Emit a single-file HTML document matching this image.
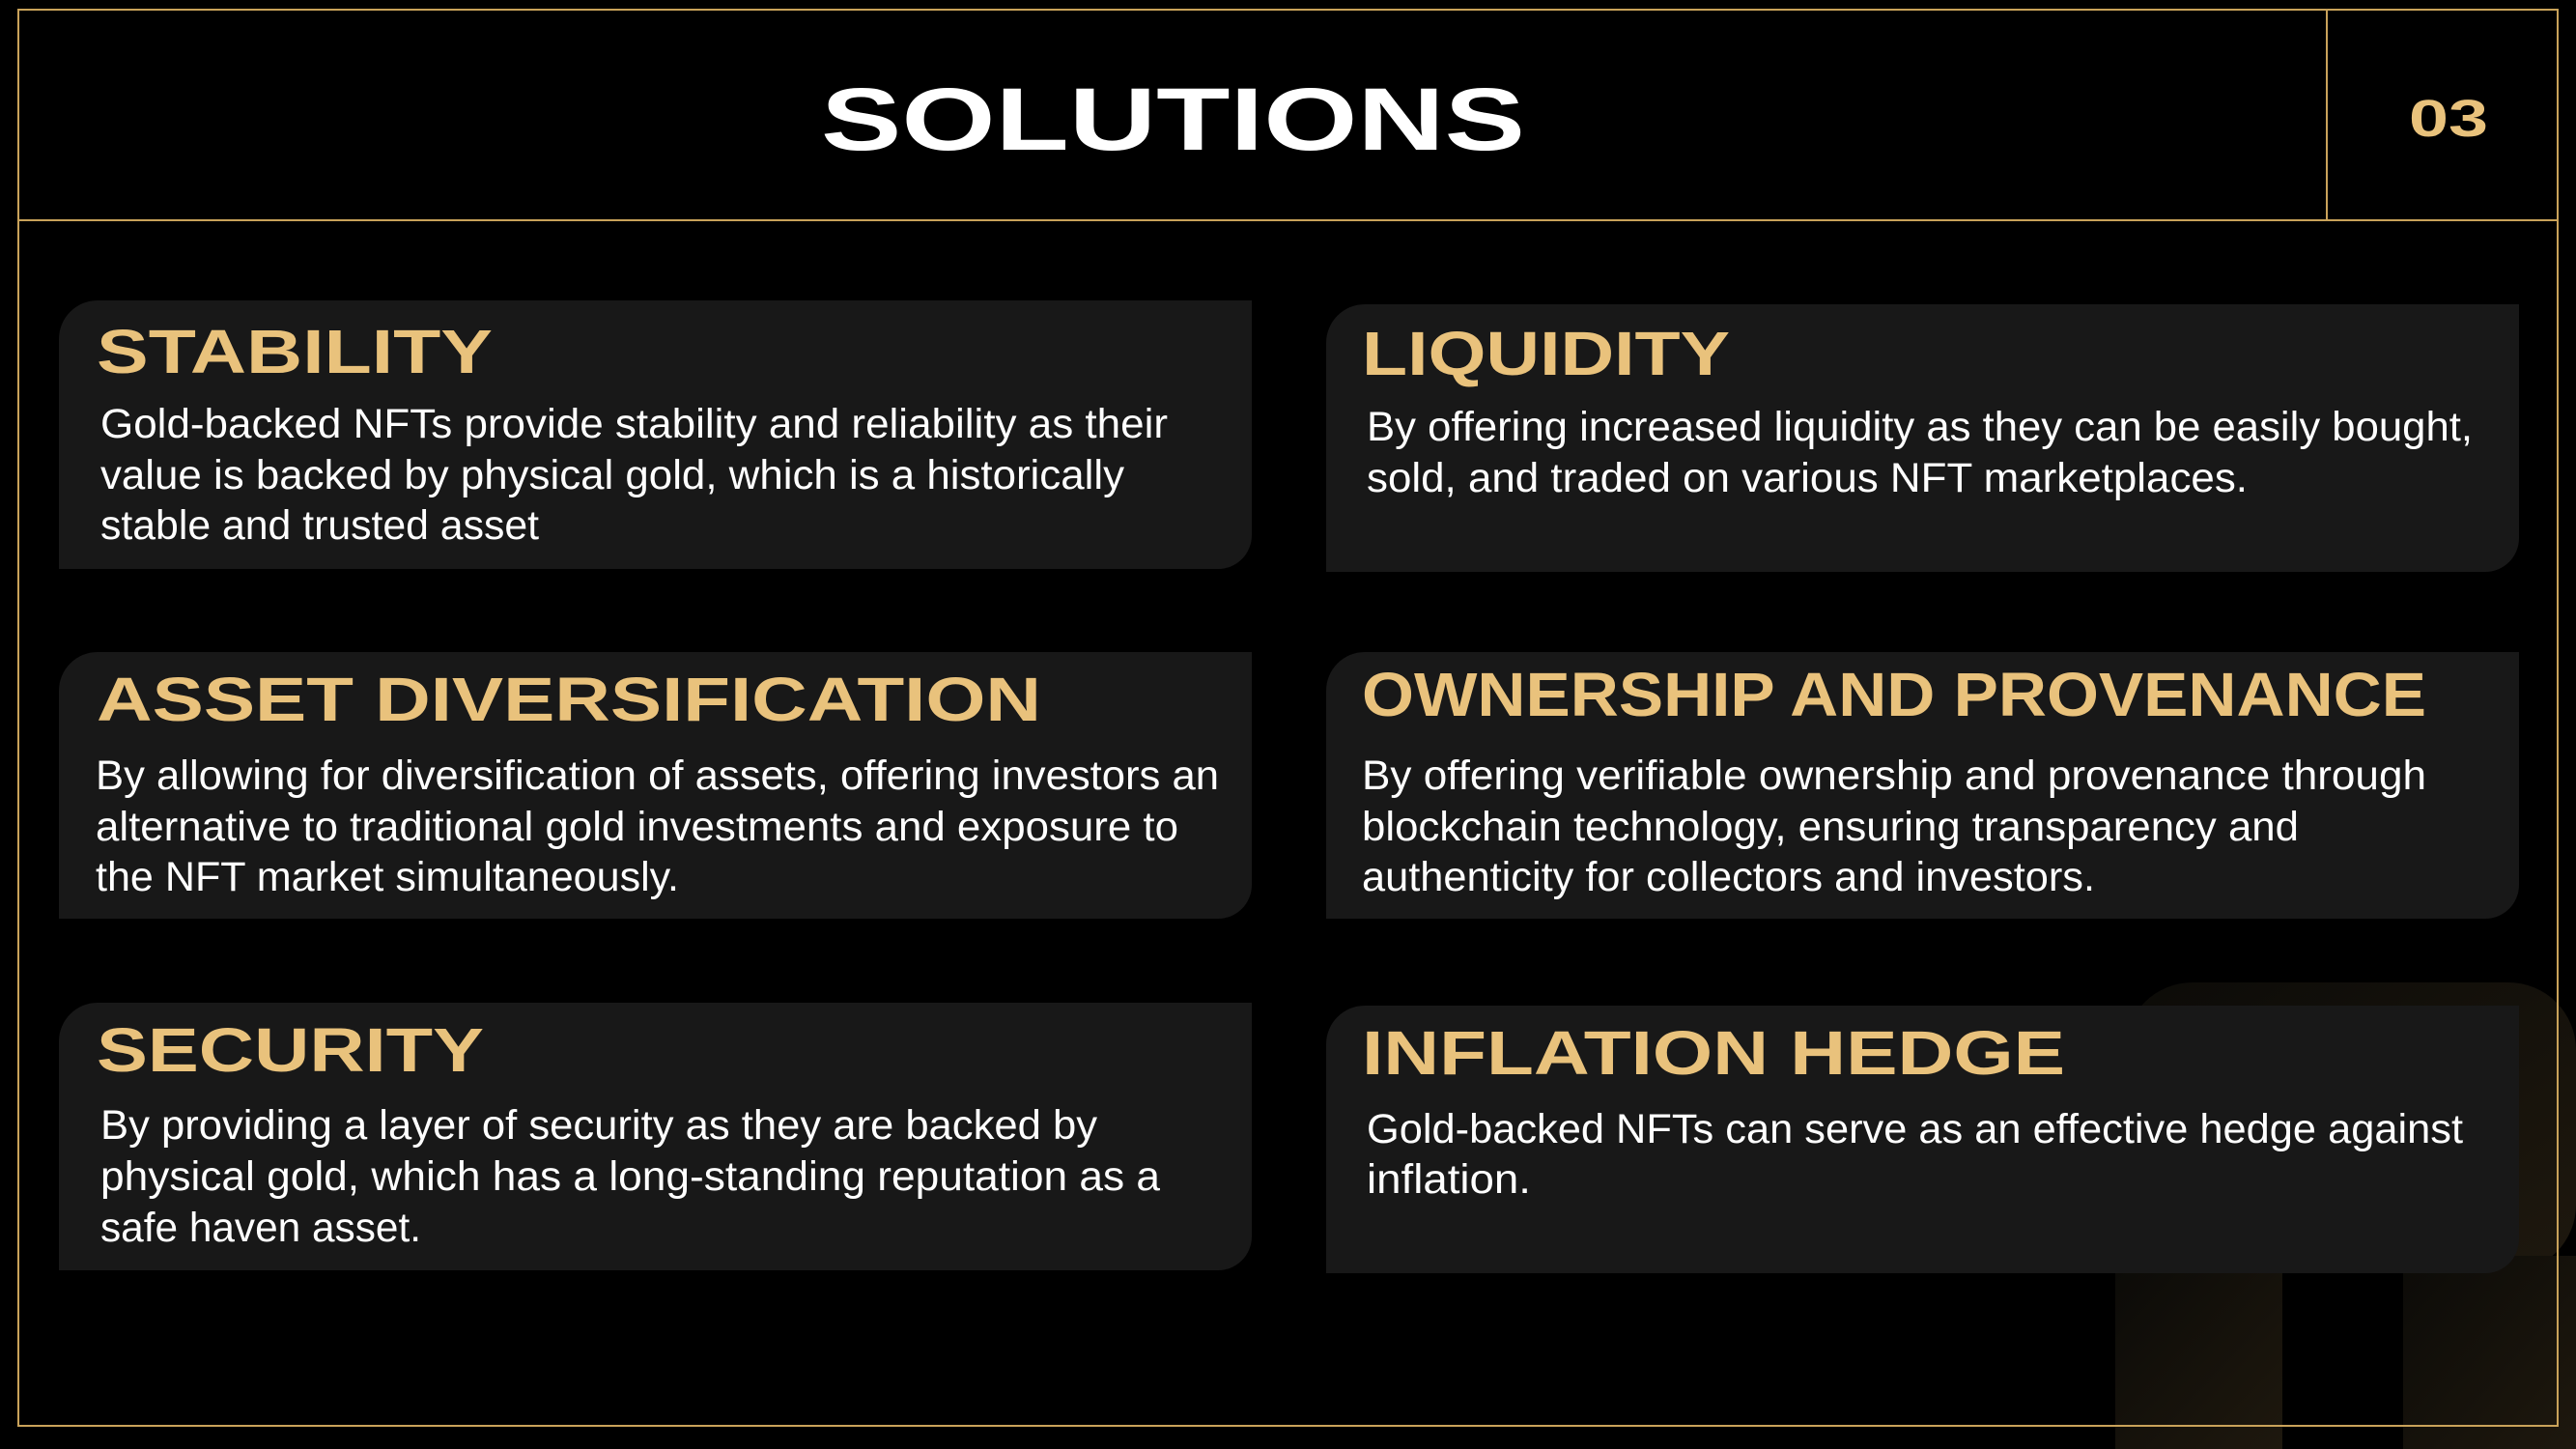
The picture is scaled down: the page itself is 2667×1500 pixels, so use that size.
<!DOCTYPE html>
<html><head><meta charset="utf-8"><style>
html,body{margin:0;padding:0;background:#000;width:2667px;height:1500px;overflow:hidden}
svg{display:block}
.t{font-family:"Liberation Sans",sans-serif;font-weight:bold;fill:#e9c27c;font-size:64px}
.b{font-family:"Liberation Sans",sans-serif;fill:#fff;font-size:43px}
</style></head><body>
<svg width="2667" height="1500" viewBox="0 0 2667 1500" xmlns="http://www.w3.org/2000/svg">
<defs><linearGradient id="g" x1="0" y1="0" x2="1" y2="1"><stop offset="0" stop-color="#0c0b08"/><stop offset="1" stop-color="#1e180e"/></linearGradient></defs>
<rect width="2667" height="1500" fill="#000"/>
<rect x="2200" y="1017" width="467" height="300" rx="70" fill="url(#g)"/>
<rect x="2190" y="1317" width="173" height="183" fill="url(#g)"/>
<rect x="2488" y="1300" width="179" height="200" fill="url(#g)"/>
<rect x="19" y="10" width="2629" height="1466" fill="none" stroke="#c9a25a" stroke-width="2"/>
<line x1="19" y1="228" x2="2648" y2="228" stroke="#c9a25a" stroke-width="2"/>
<line x1="2409" y1="10" x2="2409" y2="228" stroke="#c9a25a" stroke-width="2"/>
<text x="850" y="155" textLength="729" lengthAdjust="spacingAndGlyphs" style="font-family:'Liberation Sans',sans-serif;font-weight:bold;font-size:92px;fill:#fff">SOLUTIONS</text>
<text x="2494" y="141" textLength="82" lengthAdjust="spacingAndGlyphs" style="font-family:'Liberation Sans',sans-serif;font-weight:bold;font-size:54px;fill:#e9c27c">03</text>
<path d="M101 311 H1296 V554 A35 35 0 0 1 1261 589 H61 V351 A40 40 0 0 1 101 311Z" fill="#181818"/>
<path d="M1413 315 H2608 V557 A35 35 0 0 1 2573 592 H1373 V355 A40 40 0 0 1 1413 315Z" fill="#181818"/>
<path d="M101 675 H1296 V916 A35 35 0 0 1 1261 951 H61 V715 A40 40 0 0 1 101 675Z" fill="#181818"/>
<path d="M1413 675 H2608 V916 A35 35 0 0 1 2573 951 H1373 V715 A40 40 0 0 1 1413 675Z" fill="#181818"/>
<path d="M101 1038 H1296 V1280 A35 35 0 0 1 1261 1315 H61 V1078 A40 40 0 0 1 101 1038Z" fill="#181818"/>
<path d="M1413 1041 H2608 V1283 A35 35 0 0 1 2573 1318 H1373 V1081 A40 40 0 0 1 1413 1041Z" fill="#181818"/>
<text class="t" x="100" y="386" textLength="410" lengthAdjust="spacingAndGlyphs">STABILITY</text>
<text class="t" x="1410" y="388" textLength="381" lengthAdjust="spacingAndGlyphs">LIQUIDITY</text>
<text class="t" x="100" y="746" textLength="978" lengthAdjust="spacingAndGlyphs">ASSET DIVERSIFICATION</text>
<text class="t" x="1410" y="741" textLength="1102" lengthAdjust="spacingAndGlyphs">OWNERSHIP AND PROVENANCE</text>
<text class="t" x="100" y="1109" textLength="401" lengthAdjust="spacingAndGlyphs">SECURITY</text>
<text class="t" x="1410" y="1112" textLength="728" lengthAdjust="spacingAndGlyphs">INFLATION HEDGE</text>
<text class="b" x="104" y="453" textLength="1105" lengthAdjust="spacingAndGlyphs">Gold-backed NFTs provide stability and reliability as their</text>
<text class="b" x="104" y="506" textLength="1060" lengthAdjust="spacingAndGlyphs">value is backed by physical gold, which is a historically</text>
<text class="b" x="104" y="558" textLength="454" lengthAdjust="spacingAndGlyphs">stable and trusted asset</text>
<text class="b" x="1415" y="456" textLength="1145" lengthAdjust="spacingAndGlyphs">By offering increased liquidity as they can be easily bought,</text>
<text class="b" x="1415" y="509" textLength="912" lengthAdjust="spacingAndGlyphs">sold, and traded on various NFT marketplaces.</text>
<text class="b" x="99" y="817" textLength="1163" lengthAdjust="spacingAndGlyphs">By allowing for diversification of assets, offering investors an</text>
<text class="b" x="99" y="870" textLength="1121" lengthAdjust="spacingAndGlyphs">alternative to traditional gold investments and exposure to</text>
<text class="b" x="99" y="922" textLength="604" lengthAdjust="spacingAndGlyphs">the NFT market simultaneously.</text>
<text class="b" x="1410" y="817" textLength="1102" lengthAdjust="spacingAndGlyphs">By offering verifiable ownership and provenance through</text>
<text class="b" x="1410" y="870" textLength="970" lengthAdjust="spacingAndGlyphs">blockchain technology, ensuring transparency and</text>
<text class="b" x="1410" y="922" textLength="759" lengthAdjust="spacingAndGlyphs">authenticity for collectors and investors.</text>
<text class="b" x="104" y="1179" textLength="1032" lengthAdjust="spacingAndGlyphs">By providing a layer of security as they are backed by</text>
<text class="b" x="104" y="1232" textLength="1097" lengthAdjust="spacingAndGlyphs">physical gold, which has a long-standing reputation as a</text>
<text class="b" x="104" y="1285" textLength="332" lengthAdjust="spacingAndGlyphs">safe haven asset.</text>
<text class="b" x="1415" y="1183" textLength="1135" lengthAdjust="spacingAndGlyphs">Gold-backed NFTs can serve as an effective hedge against</text>
<text class="b" x="1415" y="1235" textLength="170" lengthAdjust="spacingAndGlyphs">inflation.</text>
</svg>
</body></html>
